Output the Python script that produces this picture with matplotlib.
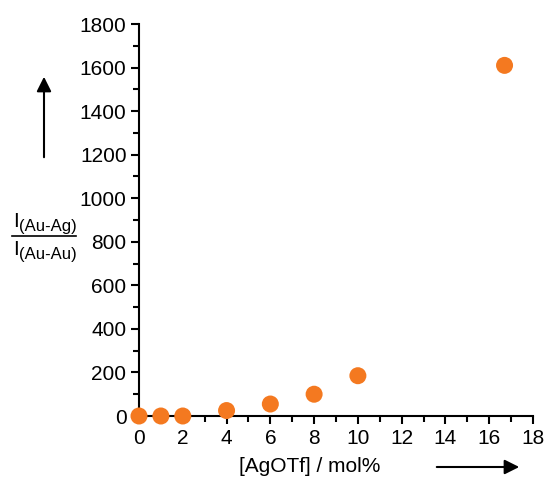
import numpy as np
import matplotlib.pyplot as plt
from matplotlib.ticker import MultipleLocator

plt.rcParams['font.family'] = ['Liberation Sans', 'DejaVu Sans']

# data
agotf = [0, 1, 2, 4, 6, 8, 10, 16.7]
ratio = [0, 0, 0, 25, 55, 100, 185, 1610]

W, H = 545, 482
fig = plt.figure(figsize=(W / 100, H / 100), dpi=100)
ax = fig.add_axes([139 / W, 1 - 416 / H, (533 - 139) / W, (416 - 24) / H])

ax.scatter(agotf, ratio, s=150, color='#F47920', edgecolors='none',
           clip_on=False, zorder=3)

ax.set_xlim(0, 18)
ax.set_ylim(0, 1800)
ax.xaxis.set_major_locator(MultipleLocator(2))
ax.xaxis.set_minor_locator(MultipleLocator(1))
ax.yaxis.set_major_locator(MultipleLocator(200))
ax.yaxis.set_minor_locator(MultipleLocator(100))
ax.spines['top'].set_visible(False)
ax.spines['right'].set_visible(False)
for s in ('left', 'bottom'):
    ax.spines[s].set_linewidth(1.5)
ax.tick_params(which='major', length=6, width=1.5, labelsize=15, pad=3)
ax.tick_params(which='minor', length=4, width=1.5)

# axis labels
fig.text(310 / W, 1 - 467 / H, '[AgOTf] / mol%', fontsize=15,
         ha='center', va='center')
fig.text(13 / W, 1 - 222 / H, 'I', fontsize=15, va='center')
fig.text(19 / W, 1 - 227 / H, '(Au-Ag)', fontsize=12, va='center')
fig.text(13 / W, 1 - 249 / H, 'I', fontsize=15, va='center')
fig.text(19 / W, 1 - 254 / H, '(Au-Au)', fontsize=12, va='center')
fig.add_artist(plt.Line2D([12 / W, 76 / W], [1 - 236 / H, 1 - 236 / H],
                          color='black', lw=1.2))

# arrows
ax.annotate('', xy=(44 / W, 1 - 74 / H), xytext=(44 / W, 1 - 160 / H),
            xycoords='figure fraction',
            arrowprops=dict(arrowstyle='-|>', lw=1.5, color='black',
                            mutation_scale=22))
ax.annotate('', xy=(522 / W, 1 - 467 / H), xytext=(434 / W, 1 - 467 / H),
            xycoords='figure fraction',
            arrowprops=dict(arrowstyle='-|>', lw=1.5, color='black',
                            mutation_scale=22))

fig.savefig('out.png', dpi=100)
